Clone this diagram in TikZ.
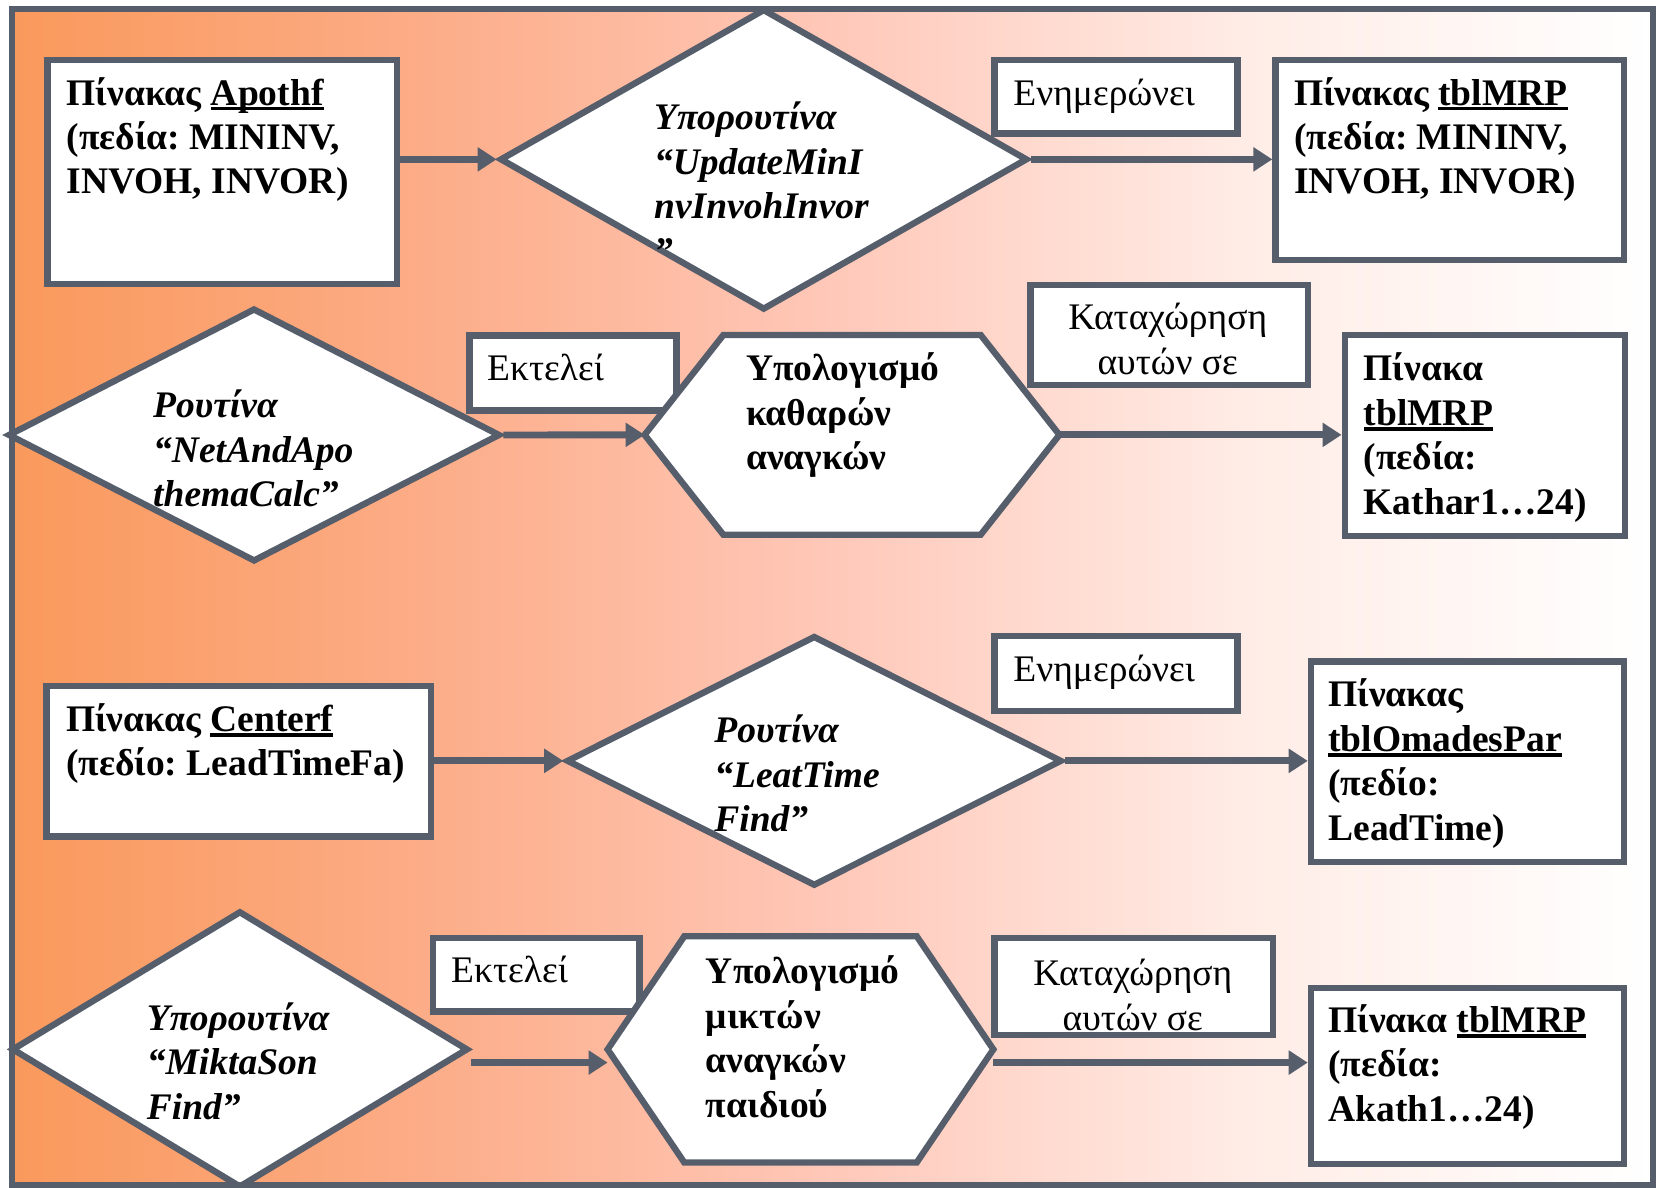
\documentclass[tikz,border=0pt]{standalone}
\usepackage{fontspec}
\setmainfont{Liberation Serif}
\usetikzlibrary{arrows.meta,shapes.geometric}
\frenchspacing

\definecolor{ln}{RGB}{86,94,108}
\pgfdeclarehorizontalshading{bgshade}{100bp}{rgb(0bp)=(0.98,0.6,0.36); rgb(25bp)=(0.98,0.6,0.36); rgb(37.5bp)=(0.988,0.675,0.53); rgb(50bp)=(1,0.784,0.725); rgb(62.5bp)=(1,0.925,0.9); rgb(75bp)=(1,1,1); rgb(100bp)=(1,1,1)}

\newcommand{\myul}[1]{\setbox0=\hbox{#1}\rlap{\rule[-5pt]{\wd0}{3.5pt}}\box0}
\newcommand{\Lft}[1]{\vtop{\halign{##\hfil\cr#1\crcr}}}
\newcommand{\Ctr}[1]{\vtop{\halign{\hfil##\hfil\cr#1\crcr}}}

\tikzset{
  shp/.style={draw=ln, line width=6pt, fill=white, line join=miter},
  rbox/.style={shp, rectangle, inner sep=0pt},
  dia/.style={shp, diamond, inner sep=0pt},
  ref/.style={draw=none, rectangle, inner sep=0pt, outer sep=0pt},
  txt/.style={inner sep=0pt, outer sep=0pt, anchor=base west, text=black},
  bf/.style={txt, font=\fontsize{35.5}{42}\selectfont\bfseries\frenchspacing},
  bi/.style={txt, font=\fontsize{35.5}{42}\selectfont\bfseries\itshape\frenchspacing},
  rg/.style={txt, font=\fontsize{35.5}{42}\selectfont\frenchspacing},
  arr/.style={draw=ln, line width=6.5pt, -{Triangle[width=22pt,length=18pt]}},
}

\begin{document}
\begin{tikzpicture}[x=1pt,y=-1pt]
\useasboundingbox (0,0) rectangle (1568,1124);
\fill[white] (0,0) rectangle (1568,1124);
\shade[shading=bgshade] (11,8.5) rectangle (1564,1121);

% label boxes
\node[rbox, minimum width=230pt, minimum height=69.7pt] (L1) at (1056,91.35) {};
\node[rbox, minimum width=195.7pt, minimum height=70.8pt] (L2) at (542.15,352.9) {};
\node[rbox, minimum width=263pt, minimum height=94.6pt] (L3) at (1106.5,317) {};
\node[rbox, minimum width=230pt, minimum height=70.7pt] (L4) at (1056,637.15) {};
\node[rbox, minimum width=195pt, minimum height=69.7pt] (L5) at (507.5,922.45) {};
\node[rbox, minimum width=263.6pt, minimum height=92.1pt] (L6) at (1072.8,933.65) {};

% diamonds
\node[dia, minimum width=499.5pt, minimum height=285pt] (D1) at (722.7,150.8) {};
\node[dia, minimum width=466pt, minimum height=240pt] (D2) at (240.4,411.6) {};
\node[dia, minimum width=469pt, minimum height=237pt] (D3) at (770.5,720) {};
\node[dia, minimum width=432pt, minimum height=262pt] (D4) at (227,993) {};

% hexagons
\node[ref, minimum width=392.5pt, minimum height=189pt] (H1) at (806.25,411.5) {};
\node[ref, minimum width=365pt, minimum height=214pt] (H2) at (757.5,993) {};
\draw[shp] (H1.west) -- ([xshift=74.5pt]H1.north west) -- ([xshift=-74.5pt]H1.north east) -- (H1.east) -- ([xshift=-74.5pt]H1.south east) -- ([xshift=74.5pt]H1.south west) -- cycle;
\draw[shp] (H2.west) -- ([xshift=72.5pt]H2.north west) -- ([xshift=-72.5pt]H2.north east) -- (H2.east) -- ([xshift=-72.5pt]H2.south east) -- ([xshift=72.5pt]H2.south west) -- cycle;

% table boxes
\node[rbox, minimum width=330.7pt, minimum height=211.9pt] (B1) at (210.35,162.75) {};
\node[rbox, minimum width=329.5pt, minimum height=189.5pt] (B2) at (1371.75,151.25) {};
\node[rbox, minimum width=265pt, minimum height=190pt] (B3) at (1405,412) {};
\node[rbox, minimum width=364pt, minimum height=142.7pt] (B4) at (226,720.35) {};
\node[rbox, minimum width=296pt, minimum height=189.4pt] (B5) at (1388.5,720.7) {};
\node[rbox, minimum width=296pt, minimum height=166.3pt] (B6) at (1388.5,1018.35) {};

% arrows
\draw[arr] (B1.east |- D1.west) -- (D1.west);
\draw[arr] (D1.east) -- (D1.east -| B2.west);
\draw[arr] (D2.east) -- (H1.west);
\draw[arr] (H1.east) -- (H1.east -| B3.west);
\draw[arr] (B4.east |- D3.west) -- (D3.west);
\draw[arr] (D3.east) -- (D3.east -| B5.west);
\draw[arr] ([yshift=-12.5pt]D4.east) -- ([yshift=-12.5pt]H2.west);
\draw[arr] ([yshift=-12.5pt]H2.east) -- ([yshift=-12.5pt]H2.east -| B6.west);

% texts
\node[bf] (tB1) at (63,99.5) {\Lft{Πίνακας \myul{Apothf}\cr(πεδία: MININV,\cr INVOH, INVOR)}};
\node[bi] (tD1) at (619,123) {\Lft{Υπορουτίνα\cr “UpdateMinI\cr nvInvohInvor\cr ”}};
\node[rg] (tL1) at (959,99.4) {Ενημερώνει};
\node[bf] (tB2) at (1224.5,99.4) {\Lft{Πίνακας \myul{tblMRP}\cr(πεδία: MININV,\cr INVOH, INVOR)}};

\node[bi] (tD2) at (145,395.5) {\Lft{Ρουτίνα\cr “NetAndApo\cr themaCalc”}};
\node[rg] (tL2) at (461,360.5) {Εκτελεί};
\node[bf] (tH1) at (706,360.5) {\Lft{Υπολογισμό\cr καθαρών\cr αναγκών}};
\node[rg, anchor=base] (tL3) at (1105,312) {\Ctr{Καταχώρηση\cr αυτών σε}};
\node[bf] (tB3) at (1290.5,360.5) {\Lft{Πίνακα\cr \myul{tblMRP}\cr (πεδία:\cr Kathar1…24)}};

\node[bf] (tB4) at (62.5,692) {\Lft{Πίνακας \myul{Centerf}\cr(πεδίο: LeadTimeFa)}};
\node[bi] (tD3) at (676,703) {\Lft{Ρουτίνα\cr “LeatTime\cr Find”}};
\node[rg] (tL4) at (959,645) {Ενημερώνει};
\node[bf] (tB5) at (1257,669) {\Lft{Πίνακας\cr \myul{tblOmadesPar}\cr (πεδίο:\cr LeadTime)}};

\node[bi] (tD4) at (139,975) {\Lft{Υπορουτίνα\cr “MiktaSon\cr Find”}};
\node[rg] (tL5) at (427,930) {Εκτελεί};
\node[bf] (tH2) at (668,931) {\Lft{Υπολογισμό\cr μικτών\cr αναγκών\cr παιδιού}};
\node[rg, anchor=base] (tL6) at (1072,933) {\Ctr{Καταχώρηση\cr αυτών σε}};
\node[bf] (tB6) at (1257,977) {\Lft{Πίνακα \myul{tblMRP}\cr (πεδία:\cr Akath1…24)}};

% frame
\draw[ln, line width=5.5pt] (11,8.5) rectangle (1564,1121);
\end{tikzpicture}
\end{document}
